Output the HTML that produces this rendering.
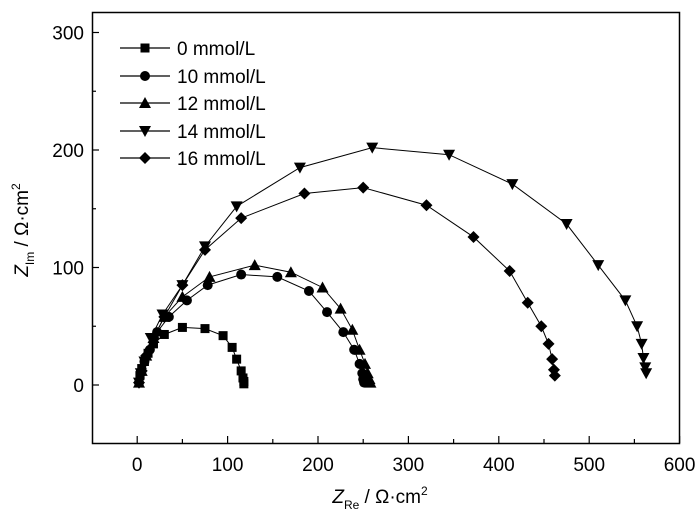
<!DOCTYPE html>
<html><head><meta charset="utf-8"><style>body{margin:0;background:#fff}svg{display:block;font-family:"Liberation Sans",Arial,sans-serif}</style></head><body>
<svg id="s" width="700" height="521" xmlns="http://www.w3.org/2000/svg"></svg>
<script>
const s=document.getElementById('s');
const X=v=>137.2+v*0.904, Y=v=>385-v*1.175;
let h='';
h+='<rect x="92.5" y="12.5" width="587" height="431" fill="none" stroke="#000" stroke-width="1.5"/>';
for(let v=-50;v<=600;v+=50){if(v<=-50)continue;const x=X(v);h+=`<line x1="${x}" y1="443" x2="${x}" y2="${v%100==0?436:439}" stroke="#000" stroke-width="1.2"/>`;if(v%100==0&&v<=600)h+=`<text x="${x}" y="471" font-size="19" text-anchor="middle">${v}</text>`;}
for(let v=0;v<=300;v+=50){const y=Y(v);h+=`<line x1="92" y1="${y}" x2="${v%100==0?99:96}" y2="${y}" stroke="#000" stroke-width="1.2"/>`;if(v%100==0)h+=`<text x="84" y="${y+7}" font-size="19" text-anchor="end">${v}</text>`;}
h+='<text x="380" y="503" font-size="19" text-anchor="middle"><tspan font-style="italic">Z</tspan><tspan font-size="12" dy="6">Re</tspan><tspan dy="-6"> / Ω·cm</tspan><tspan font-size="12" dy="-8">2</tspan></text>';
h+='<text transform="translate(28,230) rotate(-90)" font-size="19" text-anchor="middle"><tspan font-style="italic">Z</tspan><tspan font-size="12" dy="6">Im</tspan><tspan dy="-6"> / Ω·cm</tspan><tspan font-size="12" dy="-8">2</tspan></text>';
function mk(t,x,y){if(t==0)return `<rect x="${x-4.5}" y="${y-4.5}" width="9" height="9"/>`;if(t==1)return `<circle cx="${x}" cy="${y}" r="5"/>`;if(t==2)return `<polygon points="${x},${y-6} ${x+6},${y+5} ${x-6},${y+5}"/>`;if(t==3)return `<polygon points="${x},${y+6} ${x+6},${y-5} ${x-6},${y-5}"/>`;return `<polygon points="${x},${y-6} ${x+6},${y} ${x},${y+6} ${x-6},${y}"/>`;}
const D=[
[[2,2],[3,8],[5,14],[8,20],[12,27],[18,35],[30,43],[50,49],[75,48],[95,42],[105,32],[110,22],[115,12],[117,6],[118,3],[118,1]],
[[2,2],[4,10],[8,20],[14,30],[22,45],[35,58],[55,72],[78,85],[115,94],[155,92],[190,80],[210,62],[228,45],[240,30],[246,18],[249,10],[250,5],[251,2]],
[[2,2],[5,12],[10,25],[18,40],[30,58],[50,75],[80,92],[130,102],[170,96],[205,83],[225,65],[238,47],[246,30],[252,18],[255,10],[257,5],[258,2]],
[[2,2],[4,10],[8,20],[15,40],[28,60],[50,85],[75,118],[110,152],[180,185],[260,202],[345,196],[415,171],[475,137],[510,102],[540,72],[553,50],[558,35],[560,23],[562,15],[563,10]],
[[2,2],[5,12],[10,25],[18,40],[30,58],[50,85],[75,115],[115,142],[185,163],[250,168],[320,153],[372,126],[412,97],[432,70],[447,50],[455,35],[459,22],[461,13],[462,8]]];
const L=['0 mmol/L','10 mmol/L','12 mmol/L','14 mmol/L','16 mmol/L'],LY=[48,76,103,131,158];
D.forEach((d,i)=>{h+=`<polyline fill="none" stroke="#000" stroke-width="1" points="${d.map(p=>X(p[0])+','+Y(p[1])).join(' ')}"/>`;d.forEach(p=>h+=mk(i,X(p[0]),Y(p[1])));
h+=`<line x1="120" y1="${LY[i]}" x2="170" y2="${LY[i]}" stroke="#000" stroke-width="1.2"/>`+mk(i,145,LY[i])+`<text x="177" y="${LY[i]+7}" font-size="19">${L[i]}</text>`;});
s.innerHTML=h;
</script>
</body></html>
